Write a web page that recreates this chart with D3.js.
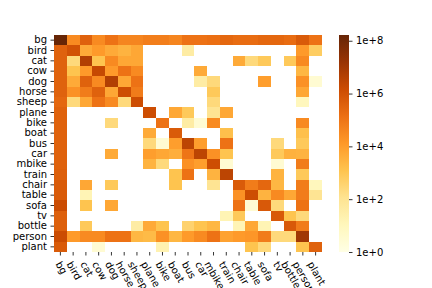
<!DOCTYPE html>
<html>
<head>
<meta charset="utf-8">
<script src="https://cdn.jsdelivr.net/npm/d3@7"></script>
<style>
  body { margin: 0; background: #fff; }
  text { font-family: "DejaVu Sans", sans-serif; }
</style>
</head>
<body>
<script>
// class names (rows = true, columns = predicted)
const classes = ["bg","bird","cat","cow","dog","horse","sheep","plane","bike","boat","bus",
  "car","mbike","train","chair","table","sofa","tv","bottle","person","plant"];

// counts per row, columns in the same order as classes (0 = empty cell)
const bgRow     = [1.65e8,3e4,3.5e5,3e4,1.2e5,4e4,4e4,6e4,6e4,4e4,1.2e5,1.2e5,1.5e5,2.5e5,1.8e5,1.8e5,2.5e5,2.5e5,1.8e5,5.5e5,1.2e5];
const birdRow   = [3.5e5,1e6,5e3,1.2e4,5e3,3e3,6e3,0,0,0,40,0,0,0,0,0,0,0,0,1.2e4,600];
const catRow    = [3.5e5,250,5e6,1.2e3,3e4,6e3,6e3,0,0,0,0,0,0,0,5e3,250,800,0,800,3e4,0];
const cowRow    = [3.5e5,1.2e3,1.2e4,2e6,1.2e4,1.2e5,3e4,0,0,0,0,5e3,0,0,0,0,0,0,0,2.5e3,0];
const dogRow    = [3.5e5,5e3,3.5e5,3e4,5e6,6e3,1.2e5,0,0,0,0,40,250,0,0,0,1e4,0,0,2e4,3];
const horseRow  = [3.5e5,2e4,7e4,3.5e5,6e3,1.4e6,7e4,0,0,0,0,0,800,0,0,0,0,0,0,6e3,0];
const sheepRow  = [2.5e5,250,6e3,1.2e5,3e4,250,1.4e6,0,0,0,0,0,250,0,0,0,0,0,0,10,0];
const planeRow  = [3.5e5,0,0,0,0,0,0,1.4e6,0,6e3,800,0,100,6e3,0,0,0,0,0,0,0];
const bikeRow   = [3.5e5,0,0,0,250,0,0,0,1.2e5,0,40,3,3e4,0,0,0,0,0,0,3e4,0];
const boatRow   = [3.5e5,0,0,0,0,0,0,5e3,0,5.5e5,0,0,0,1.5e3,0,0,0,0,0,1.5e3,0];
const busRow    = [3.5e5,0,0,0,0,0,0,250,3,1e4,3e6,1e4,0,1.2e5,0,0,0,250,0,800,0];
const carRow    = [3.5e5,0,0,0,5e3,0,0,1e4,6e3,4e3,1e5,3e6,2e4,1.2e3,0,0,0,800,3.5e3,3e3,0];
const mbikeRow  = [3.5e5,0,0,0,0,0,0,3e3,250,0,2e4,1e4,1.4e6,3,0,0,0,3,0,7e4,0];
const trainRow  = [4e5,0,0,0,0,0,0,0,0,1.2e3,1.2e5,0,3e3,3e6,0,0,0,3e3,0,800,0];
const chairRow  = [5.5e5,0,6e3,0,800,0,0,0,0,1.2e3,0,0,100,0,5.5e5,7e4,2.5e5,2.5e3,0,7e4,10];
const tableRow  = [5.5e5,0,16,0,0,0,0,0,0,0,0,0,0,0,2e4,1.4e6,3e3,3e4,6e3,7e4,100];
const sofaRow   = [1.5e6,0,1.2e3,0,6e3,0,0,0,0,0,0,0,0,0,1.2e5,3,6e5,250,0,1.2e5,0];
const tvRow     = [4e5,0,0,0,0,0,0,0,0,0,0,0,0,16,800,0,0,6e5,1.2e3,250,0];
const bottleRow = [4e5,0,800,0,0,0,40,5e3,1.2e3,0,400,1.2e3,2.5e3,0,16,6e3,16,0,6e5,7e4,0];
const personRow = [1.5e6,1.2e4,3e4,3e4,1.2e5,1.2e5,2.5e3,2e3,2e4,2.5e3,1.2e4,3e4,1.2e5,8e3,1.2e4,1.5e4,7e4,250,250,1.1e7,0];
const plantRow  = [5.5e5,0,0,3,0,0,0,0,20,0,0,0,0,0,0,1.2e3,250,0,0,1.2e3,3.5e5];

const rows = [bgRow,birdRow,catRow,cowRow,dogRow,horseRow,sheepRow,planeRow,bikeRow,boatRow,
  busRow,carRow,mbikeRow,trainRow,chairRow,tableRow,sofaRow,tvRow,bottleRow,personRow,plantRow];

// colour bar ticks
const cbTicks = [1e0,1e2,1e4,1e6,1e8];

const width = 432, height = 288;
const margin = {top: 35, left: 54, right: 110, bottom: 36};
const plotRight = 322, plotBottom = 252;

const svg = d3.select("body").append("svg")
  .attr("width", width)
  .attr("height", height);

const x = d3.scaleBand().domain(classes).range([margin.left, plotRight]);
const y = d3.scaleBand().domain(classes).range([margin.top, plotBottom]);

const vmax = d3.max(rows, r => d3.max(r));
// matplotlib YlOrBr, linear between the 9 stops
const ylorbr = ["#ffffe5","#fff7bc","#fee391","#fec44f","#fe9929","#ec7014","#cc4c02","#993404","#662506"];
const interp = d3.piecewise(d3.interpolateRgb, ylorbr);
const norm = d3.scaleLog().domain([1, vmax]).range([0, 1]).clamp(true);
const color = v => interp(norm(v));

const cells = [];
rows.forEach((r, i) => r.forEach((v, j) => {
  if (v > 0) cells.push({row: classes[i], col: classes[j], value: v});
}));

svg.append("g")
  .selectAll("rect")
  .data(cells)
  .join("rect")
    .attr("x", d => x(d.col))
    .attr("y", d => y(d.row))
    .attr("width", x.bandwidth())
    .attr("height", y.bandwidth())
    .attr("fill", d => color(d.value))
    .attr("shape-rendering", "crispEdges");

// y axis
const yAxis = svg.append("g")
  .attr("transform", `translate(${margin.left},0)`)
  .call(d3.axisLeft(y).tickSize(3.5).tickPadding(3.5));
yAxis.select(".domain").remove();
yAxis.selectAll("line").attr("stroke", "#000").attr("stroke-width", 0.8);
yAxis.selectAll("text").attr("font-size", 10).attr("fill", "#000")
  .attr("font-family", "DejaVu Sans");

// x axis, labels rotated
const xAxis = svg.append("g")
  .attr("transform", `translate(0,${plotBottom})`)
  .call(d3.axisBottom(x).tickSize(3.5).tickPadding(3.5));
xAxis.select(".domain").remove();
xAxis.selectAll("line").attr("stroke", "#000").attr("stroke-width", 0.8);
xAxis.selectAll("text")
  .attr("font-size", 10).attr("fill", "#000")
  .attr("font-family", "DejaVu Sans")
  .attr("text-anchor", "start")
  .attr("dy", null)
  .attr("y", 0)
  .attr("transform", function() {
    const len = this.getComputedTextLength();
    const dx = -len * 0.25 - 2;
    return `translate(${dx},12) rotate(60)`;
  });

// colour bar
const cbX = 339, cbW = 10;
const defs = svg.append("defs");
const grad = defs.append("linearGradient")
  .attr("id", "cbgrad")
  .attr("x1", 0).attr("y1", 1).attr("x2", 0).attr("y2", 0);
ylorbr.forEach((c, i) => {
  grad.append("stop").attr("offset", i / (ylorbr.length - 1)).attr("stop-color", c);
});
const cbScale = d3.scaleLog().domain([1, vmax]).range([plotBottom, margin.top]);
svg.append("rect")
  .attr("x", cbX).attr("y", margin.top)
  .attr("width", cbW).attr("height", plotBottom - margin.top)
  .attr("fill", "url(#cbgrad)");

const cbAxis = svg.append("g")
  .attr("transform", `translate(${cbX + cbW},0)`)
  .call(d3.axisRight(cbScale)
    .tickValues(cbTicks)
    .tickFormat(d => "1e+" + Math.round(Math.log10(d)))
    .tickSize(3.5).tickPadding(3.5));
cbAxis.select(".domain").remove();
cbAxis.selectAll("line").attr("stroke", "#000").attr("stroke-width", 0.8);
cbAxis.selectAll("text").attr("font-size", 10).attr("fill", "#000")
  .attr("font-family", "DejaVu Sans");
</script>
</body>
</html>
